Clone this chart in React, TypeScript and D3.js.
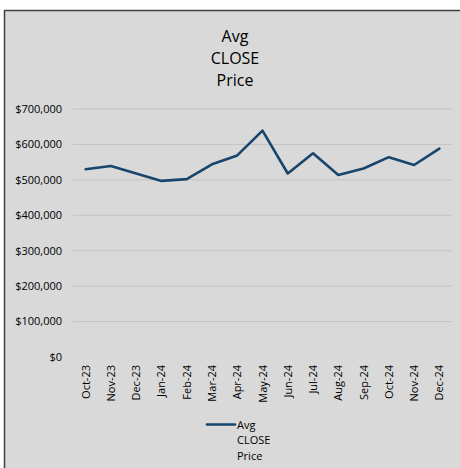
import React from "react";
import * as d3 from "d3";

const months = ["Oct-23","Nov-23","Dec-23","Jan-24","Feb-24","Mar-24","Apr-24","May-24","Jun-24","Jul-24","Aug-24","Sep-24","Oct-24","Nov-24","Dec-24"];
const avgClose = [530000,539000,518000,497000,502000,544000,569000,639000,518000,575000,514000,532000,564000,542000,588000];
const yTicks = [0,100000,200000,300000,400000,500000,600000,700000];
const titleLines = ["Avg","CLOSE","Price"];
const legendLines = ["Avg","CLOSE","Price"];

const FONT = "'Open Sans', sans-serif";

export default function App() {
  const W = 460, H = 468;
  const x = d3.scaleBand<string>().domain(months).range([73, 452]).padding(0);
  const y = d3.scaleLinear().domain([0, 700000]).range([357, 109]);
  const fmt = (v: number) => "$" + d3.format(",")(v);
  const cx = (m: string) => (x(m) as number) + x.bandwidth() / 2;
  const line = d3.line<number>().x((_, i) => cx(months[i])).y(v => y(v));

  return (
    <svg width={W} height={H} style={{ position: "absolute", left: 0, top: 0 }} fontFamily={FONT}>
      <rect x={0} y={0} width={W} height={H} fill="#ffffff" />
      <rect x={4.5} y={10.5} width={480} height={480} fill="#d9d9d9" stroke="#404040" strokeWidth={1.5} />
      <g textAnchor="middle" fontSize={16} fill="#000">
        {titleLines.map((t, i) => (
          <text key={t} x={235} y={42 + i * 22}>{t}</text>
        ))}
      </g>
      {yTicks.map(t => (
        <g key={t}>
          {t > 0 && <line x1={73} x2={452} y1={y(t)} y2={y(t)} stroke="#c3c3c3" strokeWidth={1} />}
          <text x={62} y={y(t)} dy="0.35em" textAnchor="end" fontSize={11} fill="#000">{fmt(t)}</text>
        </g>
      ))}
      {months.map(m => (
        <text key={m} transform={`translate(${cx(m) + 4},365) rotate(-90)`} textAnchor="end" fontSize={11} fill="#000">{m}</text>
      ))}
      <path d={line(avgClose) || ""} fill="none" stroke="#17456b" strokeWidth={2.6} strokeLinejoin="round" strokeLinecap="round" />
      <line x1={207} x2={235} y1={424.5} y2={424.5} stroke="#17456b" strokeWidth={2.6} strokeLinecap="round" />
      <g fontSize={11} fill="#000">
        {legendLines.map((t, i) => (
          <text key={t} x={237} y={428.5 + i * 15.5}>{t}</text>
        ))}
      </g>
    </svg>
  );
}
